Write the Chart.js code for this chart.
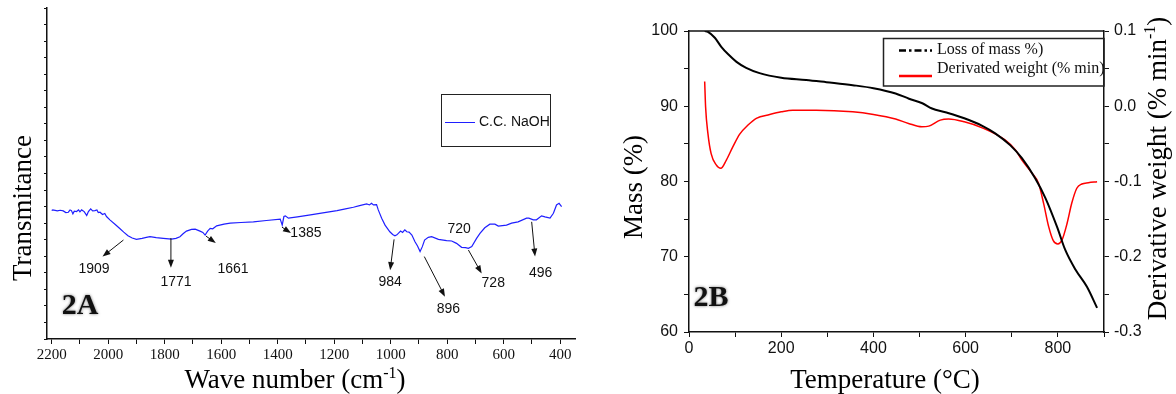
<!DOCTYPE html>
<html>
<head>
<meta charset="utf-8">
<script src="https://cdn.jsdelivr.net/npm/chart.js@4.4.0/dist/chart.umd.min.js"></script>
<style>
  html, body { margin: 0; padding: 0; background: #fff; }
  #wrap { position: relative; width: 1176px; height: 394px; overflow: hidden; }
  canvas { position: absolute; top: 0; }
  #ftir { left: 0; }
  #tga { left: 600px; }
</style>
</head>
<body>
<div id="wrap">
  <canvas id="ftir" width="600" height="394"></canvas>
  <canvas id="tga" width="576" height="394"></canvas>
</div>
<script>
// ---- 2A: FTIR spectrum (wave number, arbitrary transmittance units) ----
const waveNumbers = [2200, 2196, 2180, 2170, 2159, 2150, 2141, 2135, 2130, 2125, 2120, 2112, 2105, 2100, 2094, 2085, 2076, 2070, 2062, 2055,
  2047, 2040, 2035, 2029, 2020, 2012, 2006, 1994, 1975, 1959, 1945, 1930, 1915, 1900, 1880, 1865, 1852, 1830, 1805, 1776,
  1760, 1746, 1735, 1723, 1705, 1692, 1675, 1665, 1657, 1648, 1639, 1630, 1616, 1590, 1568, 1530, 1486, 1440, 1391, 1384,
  1378, 1373, 1362, 1330, 1284, 1240, 1190, 1160, 1132, 1110, 1085, 1075, 1068, 1061, 1050, 1044, 1032, 1020, 1003, 993,
  985, 978, 973, 965, 958, 950, 943, 935, 925, 914, 905, 896, 888, 880, 867, 855, 831, 802, 784, 767,
  749, 735, 725, 713, 696, 684, 667, 649, 631, 619, 590, 572, 549, 519, 511, 495, 484, 466, 454, 436,
  424, 413, 404, 395];
const transmittance = [38.8, 39.0, 38.7, 38.9, 38.7, 38.2, 38.3, 39.0, 38.8, 37.8, 38.6, 38.5, 39.0, 38.4, 39.0, 38.5, 37.3, 38.5, 39.3, 38.7,
  38.8, 39.0, 38.2, 38.3, 37.6, 37.9, 37.0, 36.0, 34.6, 33.4, 32.3, 31.2, 30.5, 30.1, 30.4, 30.7, 30.9, 30.6, 30.4, 30.2,
  30.4, 30.9, 31.8, 32.6, 33.1, 33.2, 32.6, 32.2, 31.4, 32.6, 33.4, 33.3, 34.2, 34.7, 35.0, 35.2, 35.4, 35.8, 36.2, 34.4,
  37.0, 37.2, 36.5, 36.9, 37.5, 38.1, 38.8, 39.3, 39.8, 40.3, 40.8, 40.5, 41.0, 40.5, 40.6, 39.0, 36.5, 34.4, 32.4, 31.6,
  31.2, 31.5, 31.9, 32.6, 32.2, 33.0, 32.4, 32.3, 31.4, 29.4, 28.1, 26.4, 27.9, 29.9, 30.7, 30.9, 30.1, 29.7, 29.6, 28.9,
  27.7, 27.6, 27.4, 27.9, 30.4, 31.9, 33.6, 34.7, 34.7, 34.1, 34.4, 35.0, 35.4, 36.5, 36.5, 36.0, 36.0, 37.2, 36.9, 36.5,
  38.0, 40.5, 41.0, 40.0];

// peak annotations: label, label position, arrow start, arrow end (data units)
const peakLabels = ['1909', '1771', '1661', '1385', '984', '896', '720', '728', '496'];
const peakLabelAt = [[2050, 21.1], [1760, 17.2], [1558, 21.1], [1300, 32.1], [1002, 17.2], [796, 9.0], [758, 33.3], [637, 16.8], [469, 19.8]];
const peakArrowFrom = [[1946, 29.9], [1778, 30.5], [1654, 31.1], [1385, 33.8], [988, 30.1], [881, 24.9], null, [725, 26.9], [501, 35.4]];
const peakArrowTo = [[2020, 24.9], [1778, 21.5], [1619, 29.0], [1353, 32.0], [1002, 20.8], [808, 12.8], null, [678, 19.8], [489, 24.9]];

// ---- 2B: TGA / DTG ----
const massTemps = [34, 41, 56, 70, 85, 103, 124, 153, 200, 254, 298, 355, 400, 448, 477, 506, 527, 556, 597, 636,
  664, 697, 722, 751, 773, 798, 816, 838, 863, 885];
const massPct = [100.0, 99.9, 99.1, 97.9, 96.9, 95.9, 95.1, 94.4, 93.8, 93.5, 93.2, 92.8, 92.4, 91.7, 91.0, 90.4, 89.7, 89.2, 88.4, 87.4,
  86.4, 84.8, 83.1, 80.4, 77.8, 74.0, 70.9, 68.3, 66.0, 63.2];
const derivTemps = [34, 36, 41, 48, 59, 69, 81, 95, 110, 128, 146, 175, 200, 225, 276, 355, 400, 448, 476, 505,
  520, 545, 563, 597, 636, 686, 708, 722, 744, 758, 769, 780, 790, 800, 809, 820, 830, 841, 852, 866, 885];
const derivWeight = [0.033, -0.001, -0.036, -0.063, -0.078, -0.0825, -0.0715, -0.054, -0.037, -0.025, -0.016, -0.011, -0.0074, -0.0052, -0.0052, -0.0074, -0.011, -0.017, -0.0228, -0.0273,
  -0.0264, -0.0184, -0.017, -0.0207, -0.0287, -0.045, -0.058, -0.0715, -0.089, -0.1024, -0.129, -0.16, -0.1785, -0.183, -0.1776, -0.1555, -0.129, -0.109, -0.1033, -0.1016, -0.1003];

const serif = '"Liberation Serif", "Times New Roman", serif';
const sans = '"Liberation Sans", Arial, sans-serif';

function drawRich(ctx, parts, x, y, size) {
  // parts: [text, isSuperscript]
  const fonts = parts.map(p => (p[1] ? Math.round(size * 0.6) : size) + 'px ' + serif);
  let w = 0;
  parts.forEach((p, i) => { ctx.font = fonts[i]; w += ctx.measureText(p[0]).width; });
  let cx = x - w / 2;
  ctx.textAlign = 'left';
  ctx.textBaseline = 'alphabetic';
  parts.forEach((p, i) => {
    ctx.font = fonts[i];
    ctx.fillText(p[0], cx, p[1] ? y - size * 0.38 : y);
    cx += ctx.measureText(p[0]).width;
  });
}

function arrow(ctx, x1, y1, x2, y2) {
  const a = Math.atan2(y2 - y1, x2 - x1), L = 8, W = 3;
  ctx.beginPath();
  ctx.moveTo(x1, y1);
  ctx.lineTo(x2 - L * 0.8 * Math.cos(a), y2 - L * 0.8 * Math.sin(a));
  ctx.stroke();
  ctx.beginPath();
  ctx.moveTo(x2, y2);
  ctx.lineTo(x2 - L * Math.cos(a) + W * Math.sin(a), y2 - L * Math.sin(a) - W * Math.cos(a));
  ctx.lineTo(x2 - L * Math.cos(a) - W * Math.sin(a), y2 - L * Math.sin(a) + W * Math.cos(a));
  ctx.closePath();
  ctx.fill();
}

function panelLabel(ctx, text, x, y) {
  ctx.save();
  ctx.font = 'bold 30px ' + serif;
  ctx.fillStyle = '#111';
  ctx.shadowColor = 'rgba(0,0,0,0.55)';
  ctx.shadowBlur = 3;
  ctx.textAlign = 'center';
  ctx.textBaseline = 'middle';
  ctx.fillText(text, x, y);
  ctx.restore();
}

const ftirDecor = {
  id: 'ftirDecor',
  afterDraw(chart) {
    const ctx = chart.ctx, xs = chart.scales.x, ys = chart.scales.y;
    ctx.save();
    ctx.fillStyle = '#000';
    // axis titles
    drawRich(ctx, [['Wave number (cm', false], ['-1', true], [')', false]], 295, 388, 27);
    ctx.save();
    ctx.translate(30.5, 208);
    ctx.rotate(-Math.PI / 2);
    drawRich(ctx, [['Transmitance', false]], 0, 0, 27);
    ctx.restore();

    // peak arrows + labels
    ctx.strokeStyle = '#111';
    ctx.fillStyle = '#111';
    ctx.lineWidth = 1;
    peakLabels.forEach((lab, i) => {
      if (peakArrowFrom[i]) {
        arrow(ctx, xs.getPixelForValue(peakArrowFrom[i][0]), ys.getPixelForValue(peakArrowFrom[i][1]),
          xs.getPixelForValue(peakArrowTo[i][0]), ys.getPixelForValue(peakArrowTo[i][1]));
      }
      ctx.font = '14px ' + sans;
      ctx.textAlign = 'center';
      ctx.textBaseline = 'middle';
      ctx.fillText(lab, xs.getPixelForValue(peakLabelAt[i][0]), ys.getPixelForValue(peakLabelAt[i][1]));
    });

    // legend
    const ds = chart.data.datasets[0];
    ctx.strokeStyle = '#222';
    ctx.lineWidth = 1;
    ctx.strokeRect(441.5, 94.5, 109, 52);
    ctx.strokeStyle = ds.borderColor;
    ctx.beginPath();
    ctx.moveTo(445, 122.5);
    ctx.lineTo(475, 122.5);
    ctx.stroke();
    ctx.fillStyle = '#111';
    ctx.font = '14px ' + sans;
    ctx.textAlign = 'left';
    ctx.textBaseline = 'middle';
    ctx.fillText(ds.label, 479, 122.5);

    panelLabel(ctx, '2A', 80, 306);
    ctx.restore();
  }
};

new Chart(document.getElementById('ftir').getContext('2d'), {
  type: 'line',
  data: {
    datasets: [{
      label: 'C.C. NaOH',
      data: waveNumbers.map((w, i) => ({ x: w, y: transmittance[i] })),
      borderColor: '#1f1fff',
      borderWidth: 1.2,
      pointRadius: 0,
      tension: 0
    }]
  },
  options: {
    responsive: false,
    animation: false,
    devicePixelRatio: 1,
    layout: { padding: { top: 8, right: 25, left: 0, bottom: 0 } },
    plugins: { legend: { display: false }, tooltip: { enabled: false } },
    scales: {
      x: {
        type: 'linear',
        reverse: true,
        min: 347.6,
        max: 2216.6,
        border: { color: '#111', width: 1.5 },
        grid: { drawOnChartArea: false, tickLength: 5, color: '#111' },
        ticks: {
          stepSize: 100, autoSkip: false, maxRotation: 0, includeBounds: false, padding: 2,
          color: '#111', font: { family: serif, size: 15 },
          callback: v => (v % 200 === 0 ? String(v) : '')
        },
        afterFit: s => { s.height = 55; }
      },
      y: {
        min: 0,
        max: 100,
        border: { color: '#111', width: 1.5 },
        grid: { drawOnChartArea: false, tickLength: 3, color: '#111' },
        ticks: { stepSize: 5, autoSkip: false, padding: 0, callback: () => '' },
        afterFit: s => { s.width = 47; }
      }
    }
  },
  plugins: [ftirDecor]
});

const tgaDecor = {
  id: 'tgaDecor',
  afterDraw(chart) {
    const ctx = chart.ctx, area = chart.chartArea;
    ctx.save();
    // top frame line
    ctx.strokeStyle = '#111';
    ctx.lineWidth = 1.5;
    ctx.beginPath();
    ctx.moveTo(area.left, area.top);
    ctx.lineTo(area.right, area.top);
    ctx.stroke();

    ctx.fillStyle = '#000';
    drawRich(ctx, [['Temperature (\u00B0C)', false]], 285, 388, 27);
    ctx.save();
    ctx.translate(41.5, 187);
    ctx.rotate(-Math.PI / 2);
    drawRich(ctx, [['Mass (%)', false]], 0, 0, 27);
    ctx.restore();
    ctx.save();
    ctx.translate(565.5, 168.5);
    ctx.rotate(-Math.PI / 2);
    drawRich(ctx, [['Derivative weight (% min', false], ['-1', true], [')', false]], 0, 0, 27);
    ctx.restore();

    // legend
    const dsets = chart.data.datasets;
    ctx.strokeStyle = '#222';
    ctx.lineWidth = 1.5;
    ctx.strokeRect(283.5, 38.5, area.right - 283.5, 47.5);
    ctx.lineWidth = 2.5;
    ctx.strokeStyle = dsets[0].borderColor;
    ctx.setLineDash([7, 3, 2.5, 3]);
    ctx.beginPath();
    ctx.moveTo(299, 50.5);
    ctx.lineTo(332, 50.5);
    ctx.stroke();
    ctx.setLineDash([]);
    ctx.strokeStyle = dsets[1].borderColor;
    ctx.beginPath();
    ctx.moveTo(299, 76);
    ctx.lineTo(332, 76);
    ctx.stroke();
    ctx.fillStyle = '#111';
    ctx.font = '16px ' + serif;
    ctx.textAlign = 'left';
    ctx.textBaseline = 'middle';
    ctx.fillText(dsets[0].label, 337, 49.5);
    ctx.fillText(dsets[1].label, 337, 68.5);

    panelLabel(ctx, '2B', 111, 298.5);
    ctx.restore();
  }
};

new Chart(document.getElementById('tga').getContext('2d'), {
  type: 'line',
  data: {
    datasets: [
      {
        label: 'Loss of mass %)',
        data: massTemps.map((t, i) => ({ x: t, y: massPct[i] })),
        yAxisID: 'y',
        borderColor: '#000',
        borderWidth: 2,
        pointRadius: 0,
        cubicInterpolationMode: 'monotone'
      },
      {
        label: 'Derivated weight (% min)',
        data: derivTemps.map((t, i) => ({ x: t, y: derivWeight[i] })),
        yAxisID: 'y1',
        borderColor: '#ff0000',
        borderWidth: 1.5,
        pointRadius: 0,
        cubicInterpolationMode: 'monotone'
      }
    ]
  },
  options: {
    responsive: false,
    animation: false,
    devicePixelRatio: 1,
    layout: { padding: { top: 31, right: 0, left: 0, bottom: 0 } },
    plugins: { legend: { display: false }, tooltip: { enabled: false } },
    scales: {
      x: {
        type: 'linear',
        min: 0,
        max: 900,
        border: { color: '#111', width: 1.5 },
        grid: { drawOnChartArea: false, tickLength: 5, color: '#111' },
        ticks: {
          stepSize: 100, autoSkip: false, maxRotation: 0, includeBounds: false, padding: 2,
          color: '#111', font: { family: sans, size: 16 },
          callback: v => (v % 200 === 0 ? String(v) : '')
        },
        afterFit: s => { s.height = 62; }
      },
      y: {
        position: 'left',
        min: 60,
        max: 100,
        border: { color: '#111', width: 1.5 },
        grid: { drawOnChartArea: false, tickLength: 5, color: '#111' },
        ticks: {
          stepSize: 5, autoSkip: false, padding: 6,
          color: '#111', font: { family: sans, size: 16 },
          callback: v => (v % 10 === 0 ? String(v) : '')
        },
        afterFit: s => { s.width = 89; }
      },
      y1: {
        position: 'right',
        min: -0.3,
        max: 0.1,
        border: { color: '#111', width: 1.5 },
        grid: { drawOnChartArea: false, tickLength: 5, color: '#111' },
        ticks: {
          stepSize: 0.05, autoSkip: false, padding: 5,
          color: '#111', font: { family: sans, size: 16 },
          callback: v => {
            const r = Math.round(v * 10) / 10;
            if (Math.abs(v - r) > 1e-6) return '';
            return r === 0 ? '0.0' : r.toFixed(1);
          }
        },
        afterFit: s => { s.width = 72; }
      }
    }
  },
  plugins: [tgaDecor]
});
</script>
</body>
</html>
